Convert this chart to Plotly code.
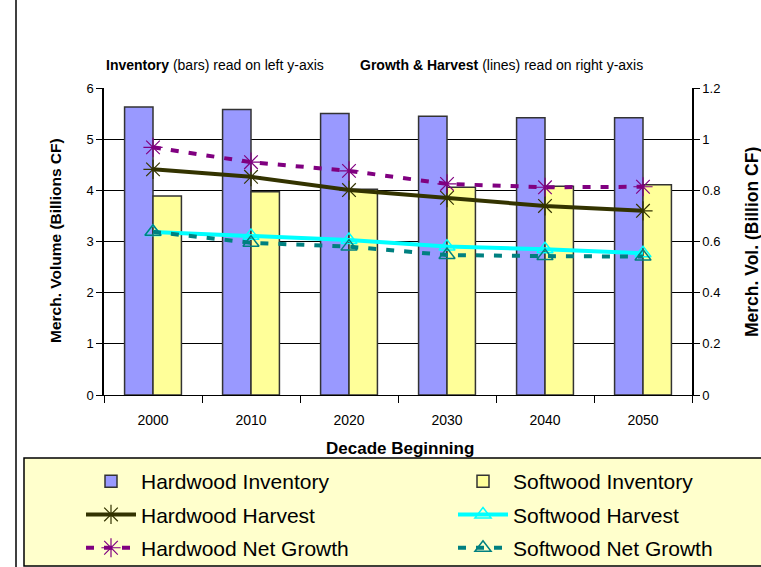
import plotly.graph_objects as go

decades = ["2000", "2010", "2020", "2030", "2040", "2050"]
hw_inventory = [5.63, 5.58, 5.50, 5.45, 5.42, 5.42]
sw_inventory = [3.89, 3.97, 4.02, 4.06, 4.08, 4.11]
hw_harvest = [0.882, 0.853, 0.801, 0.771, 0.739, 0.720]
hw_growth = [0.968, 0.910, 0.876, 0.825, 0.812, 0.814]
sw_harvest = [0.637, 0.622, 0.606, 0.580, 0.570, 0.554]
sw_growth = [0.638, 0.595, 0.580, 0.547, 0.543, 0.541]

FONT = "Liberation Sans"
W, H = 761, 567
L, R, T, B = 104, 69, 88, 172
PW, PH = W - L - R, H - T - B

def px(x):
    return (x - L) / PW

def py(y):
    return (H - B - y) / PH

fig = go.Figure()
fig.add_trace(go.Bar(x=decades, y=hw_inventory, name="Hardwood Inventory",
                     legend="legend", legendgroup="a",
                     marker=dict(color="#9999FF", line=dict(color="#333333", width=1.5))))
fig.add_trace(go.Bar(x=decades, y=sw_inventory, name="Softwood Inventory",
                     legend="legend2", legendgroup="b",
                     marker=dict(color="#FFFF99", line=dict(color="#333333", width=1.5))))
fig.add_trace(go.Scatter(x=decades, y=hw_harvest, name="Hardwood Harvest", yaxis="y2",
                         legend="legend", legendgroup="c",
                         mode="lines+markers",
                         line=dict(color="#333300", width=4),
                         marker=dict(symbol="asterisk-open", size=16, color="#333300",
                                     line=dict(color="#333300", width=1.2))))
fig.add_trace(go.Scatter(x=decades, y=sw_harvest, name="Softwood Harvest", yaxis="y2",
                         legend="legend2", legendgroup="d",
                         mode="lines+markers",
                         line=dict(color="#00FFFF", width=4),
                         marker=dict(symbol="triangle-up-open", size=14, color="#00FFFF",
                                     line=dict(color="#00FFFF", width=1.5))))
fig.add_trace(go.Scatter(x=decades, y=hw_growth, name="Hardwood Net Growth", yaxis="y2",
                         legend="legend", legendgroup="e",
                         mode="lines+markers",
                         line=dict(color="#800080", width=4, dash="8px,10px"),
                         marker=dict(symbol="asterisk-open", size=16, color="#800080",
                                     line=dict(color="#800080", width=1.2))))
fig.add_trace(go.Scatter(x=decades, y=sw_growth, name="Softwood Net Growth", yaxis="y2",
                         legend="legend2", legendgroup="f",
                         mode="lines+markers",
                         line=dict(color="#008080", width=4, dash="8px,10px"),
                         marker=dict(symbol="triangle-up-open", size=14, color="#008080",
                                     line=dict(color="#008080", width=1.5))))

legend_common = dict(orientation="v", xanchor="left", yanchor="top",
                     bgcolor="rgba(0,0,0,0)", font=dict(size=21, family=FONT),
                     itemwidth=50, tracegroupgap=3, traceorder="grouped")

fig.update_layout(
    width=W, height=H,
    margin=dict(l=L, r=R, t=T, b=B, autoexpand=False),
    paper_bgcolor="white", plot_bgcolor="white",
    font=dict(family=FONT, size=13, color="black"),
    barmode="group", bargap=0.42, bargroupgap=0,
    xaxis=dict(type="category", showline=True, linecolor="black", linewidth=1,
               ticks="outside", tickson="boundaries", ticklen=7, tickcolor="black",
               showgrid=False, tickfont=dict(size=14), ticklabelstandoff=12),
    yaxis=dict(range=[0, 6], dtick=1, showline=True, linecolor="black", linewidth=1.5,
               ticks="outside", ticklen=6, tickcolor="black",
               showgrid=True, gridcolor="black", gridwidth=1, zeroline=False,
               tickfont=dict(size=13)),
    yaxis2=dict(range=[0, 1.2], dtick=0.2, overlaying="y", side="right",
                showline=True, linecolor="black", linewidth=1.5,
                ticks="outside", ticklen=6, tickcolor="black",
                showgrid=False, zeroline=False, tickfont=dict(size=13)),
    legend=dict(x=px(81), y=py(461), **legend_common),
    legend2=dict(x=px(453), y=py(461), **legend_common),
    showlegend=True,
)

fig.add_shape(type="rect", xref="paper", yref="paper",
              x0=px(24), x1=px(770), y0=py(566), y1=py(458),
              fillcolor="#FFFFCC", line=dict(color="black", width=1.5), layer="below")
fig.add_shape(type="line", xref="paper", yref="paper",
              x0=px(16), x1=px(16), y0=py(567), y1=py(0),
              line=dict(color="black", width=1.5))

fig.add_annotation(xref="paper", yref="paper", x=px(104), y=py(65), xanchor="left",
                   yanchor="middle", showarrow=False,
                   text="<b>Inventory</b> (bars) read on left y-axis",
                   font=dict(size=14))
fig.add_annotation(xref="paper", yref="paper", x=px(358), y=py(65), xanchor="left",
                   yanchor="middle", showarrow=False,
                   text="<b>Growth &amp; Harvest</b> (lines) read on right y-axis",
                   font=dict(size=14))
fig.add_annotation(xref="paper", yref="paper", x=px(55), y=py(241), textangle=-90,
                   xanchor="center", yanchor="middle",
                   showarrow=False, text="<b>Merch. Volume (Billions CF)</b>",
                   font=dict(size=15.5))
fig.add_annotation(xref="paper", yref="paper", x=px(752), y=py(242), textangle=-90,
                   xanchor="center", yanchor="middle",
                   showarrow=False, text="<b>Merch. Vol. (Billion CF)</b>",
                   font=dict(size=17.5))
fig.add_annotation(xref="paper", yref="paper", x=px(400), y=py(448),
                   xanchor="center", yanchor="middle",
                   showarrow=False, text="<b>Decade Beginning</b>",
                   font=dict(size=17))

fig.write_html("out.html", config={"displayModeBar": False},
               post_script="document.body.style.margin='0';document.body.style.overflow='hidden';")
